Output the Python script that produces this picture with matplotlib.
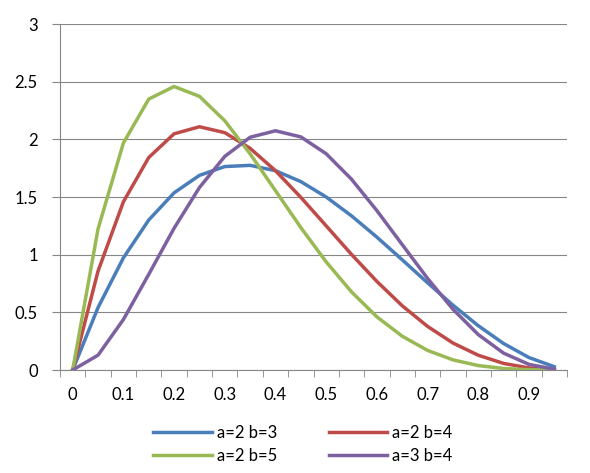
import numpy as np
import matplotlib.pyplot as plt

plt.rcParams['font.family'] = ['Lato', 'DejaVu Sans']

x_labels = ['0', '0.05', '0.1', '0.15', '0.2', '0.25', '0.3', '0.35', '0.4', '0.45',
            '0.5', '0.55', '0.6', '0.65', '0.7', '0.75', '0.8', '0.85', '0.9', '0.95']

a2_b3 = [0, 0.5415, 0.972, 1.3005, 1.536, 1.6875, 1.764, 1.7745, 1.728, 1.6335,
         1.5, 1.3365, 1.152, 0.9555, 0.756, 0.5625, 0.384, 0.2295, 0.108, 0.0285]
a2_b4 = [0, 0.857, 1.458, 1.842, 2.048, 2.109, 2.058, 1.922, 1.728, 1.497,
         1.25, 1.002, 0.768, 0.557, 0.378, 0.234, 0.128, 0.057, 0.018, 0.0024]
a2_b5 = [0, 1.222, 1.968, 2.349, 2.458, 2.373, 2.161, 1.874, 1.555, 1.235,
         0.9375, 0.677, 0.461, 0.293, 0.170, 0.0879, 0.0384, 0.0129, 0.0027, 0.0002]
a3_b4 = [0, 0.1286, 0.4374, 0.829, 1.229, 1.582, 1.852, 2.018, 2.074, 2.021,
         1.875, 1.654, 1.382, 1.087, 0.794, 0.527, 0.307, 0.146, 0.0486, 0.0068]

series = [('a=2 b=3', a2_b3, '#4A7EBB'),
          ('a=2 b=4', a2_b4, '#BE4B48'),
          ('a=2 b=5', a2_b5, '#98B954'),
          ('a=3 b=4', a3_b4, '#7D60A0')]

fig = plt.figure(figsize=(5.9, 4.73), dpi=100)
ax = fig.add_axes([60 / 590, 103 / 473, 507 / 590, 346 / 473])

idx = np.arange(len(x_labels))
lines = {}
for name, vals, col in series:
    lines[name], = ax.plot(idx, vals, color=col, lw=2.5, label=name, solid_joinstyle='round')

gray = '#868686'
ax.set_xlim(-0.5, len(x_labels) - 0.5)
ax.set_ylim(0, 3)
ax.set_yticks(np.arange(0, 3.01, 0.5))
ax.set_yticklabels(['0', '0.5', '1', '1.5', '2', '2.5', '3'])
ax.yaxis.grid(True, color=gray, lw=0.8)
ax.set_axisbelow(True)

ax.set_xticks(idx[::2])
ax.set_xticklabels(x_labels[::2])
ax.set_xticks(np.arange(-0.5, len(x_labels), 1), minor=True)
ax.tick_params(axis='x', which='major', length=0, pad=12)
ax.tick_params(axis='x', which='minor', length=5, color=gray, direction='out')
ax.tick_params(axis='y', length=6, color=gray, direction='out', pad=10)
ax.tick_params(labelsize=12, labelcolor='black')

for s in ['top', 'right']:
    ax.spines[s].set_visible(False)
for s in ['left', 'bottom']:
    ax.spines[s].set_color(gray)

# legend filled row by row like Excel
order = ['a=2 b=3', 'a=2 b=5', 'a=2 b=4', 'a=3 b=4']
fig.legend([lines[k] for k in order], order, loc='lower center',
           bbox_to_anchor=(0.513, -0.012), ncol=2, frameon=False,
           fontsize=12, handlelength=3.5, columnspacing=3.1, handletextpad=0.3,
           labelspacing=0.4)

plt.savefig('out.png', dpi=100)
